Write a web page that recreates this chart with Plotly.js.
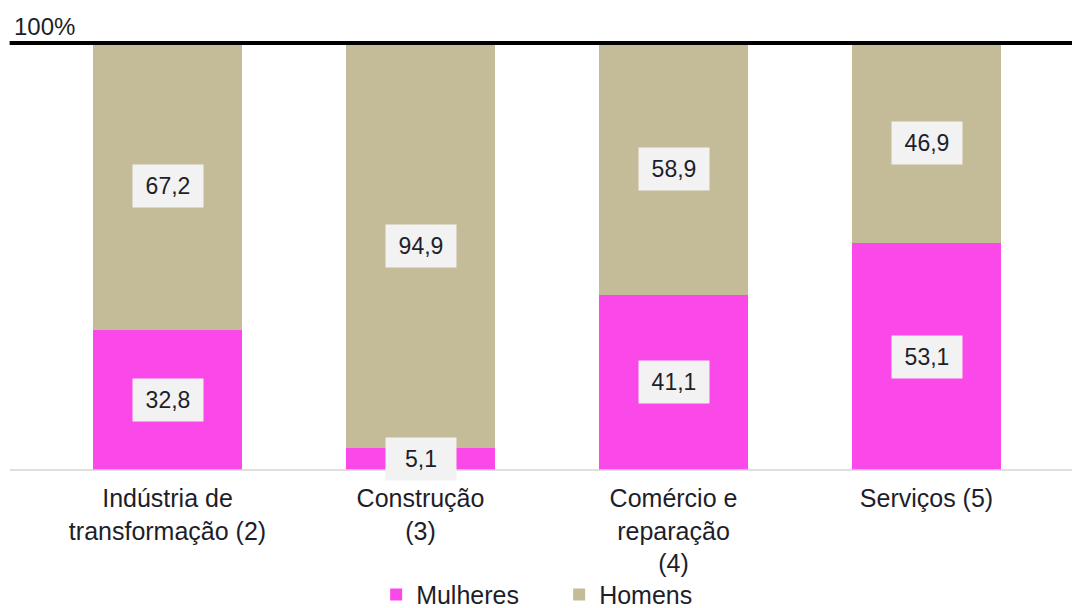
<!DOCTYPE html>
<html>
<head>
<meta charset="utf-8">
<script src="https://cdn.plot.ly/plotly-3.0.1.min.js"></script>
<style>
  html, body { margin: 0; padding: 0; background: #fff; }
  #chart { width: 1072px; height: 608px; }
</style>
</head>
<body>
<div id="chart"></div>
<script>
// categories and shares (%)
const categories = ["Indústria de<br>transformação (2)", "Construção<br>(3)", "Comércio e<br>reparação<br>(4)", "Serviços (5)"];
const mulheres = [32.8, 5.1, 41.1, 53.1];
const homens = [67.2, 94.9, 58.9, 46.9];

const pink = "#fb48e9";
const tan = "#c4bb98";
const font = "Liberation Sans, Arial, sans-serif";
const ink = "#1e1e2a";

const fmt = v => v.toFixed(1).replace(".", ",");

// value boxes sit in the middle of each segment
const labels = [];
categories.forEach((c, i) => {
  labels.push({x: c, y: mulheres[i] / 2, text: fmt(mulheres[i])});
  labels.push({x: c, y: mulheres[i] + homens[i] / 2, text: fmt(homens[i])});
});

const annotations = labels.map(l => ({
  x: l.x, y: l.y, xref: "x", yref: "y",
  text: l.text, showarrow: false,
  font: {family: font, size: 23, color: ink},
  bgcolor: "#f2f2f2", width: 68, height: 40
}));

annotations.push({
  xref: "paper", yref: "paper", x: -0.029, y: 1.0, xanchor: "left", yanchor: "bottom",
  yshift: 1, text: "100%", showarrow: false,
  font: {family: font, size: 24, color: ink}
});

const data = [
  {type: "bar", name: "Mulheres", x: categories, y: mulheres, marker: {color: pink}, hoverinfo: "none"},
  {type: "bar", name: "Homens", x: categories, y: homens, marker: {color: tan}, hoverinfo: "none"}
];

const layout = {
  width: 1072, height: 608,
  margin: {l: 41, r: 19, t: 43, b: 138, autoexpand: false},
  barmode: "stack",
  bargap: 0.41,
  paper_bgcolor: "#fff",
  plot_bgcolor: "#fff",
  font: {family: font, color: ink},
  xaxis: {
    showline: false, showgrid: false, ticks: "", zeroline: false, automargin: false,
    ticklabelstandoff: 11,
    tickfont: {family: font, size: 25, color: ink}
  },
  yaxis: {range: [0, 100], visible: false, fixedrange: true},
  showlegend: true,
  legend: {
    orientation: "h", x: 0.512, xanchor: "center", y: -0.292, yanchor: "middle",
    bgcolor: "rgba(0,0,0,0)",
    font: {family: font, size: 25, color: ink},
    traceorder: "normal", itemwidth: 30, entrywidth: 138
  },
  shapes: [
    {type: "line", xref: "paper", yref: "paper", x0: -0.031, x1: 1.02, y0: 0, y1: 0,
     line: {color: "#d4d4d4", width: 1.5}},
    {type: "line", xref: "paper", yref: "paper", x0: -0.031, x1: 1.02, y0: 1, y1: 1,
     line: {color: "#000", width: 4}}
  ],
  annotations: annotations
};

Plotly.newPlot("chart", data, layout, {displayModeBar: false, staticPlot: true});
</script>
</body>
</html>
